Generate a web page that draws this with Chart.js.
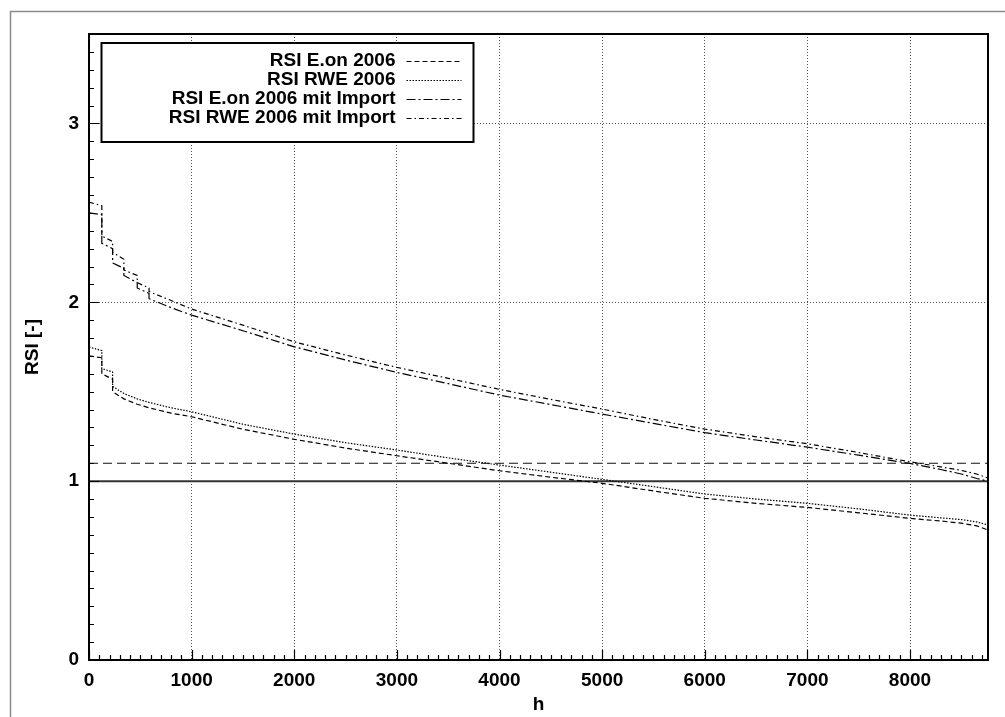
<!DOCTYPE html>
<html>
<head>
<meta charset="utf-8">
<title>RSI</title>
<script src="https://cdn.jsdelivr.net/npm/chart.js@4.4.1/dist/chart.umd.min.js"></script>
<style>
   html, body { margin: 0; padding: 0; background: #fff; }
   #wrap { position: relative; width: 1005px; height: 717px; }
</style>
</head>
<body>
<div id="wrap"><canvas id="rsiChart"></canvas></div>
<script>
'use strict';

// hours of the year (sorted duration curves), steps at the start
const hours = [0, 125, 125, 230, 230, 340, 340, 470, 470, 585, 585, 800, 1000, 1500, 2000, 2500,
   3000, 3500, 4000, 4500, 5000, 5500, 6000, 6500, 7000, 7500, 8000, 8300, 8500, 8650, 8760];

const rsiEon = [1.70, 1.69, 1.60, 1.57, 1.50, 1.46, 1.46, 1.43, 1.43, 1.41, 1.41, 1.38, 1.36, 1.29, 1.234, 1.185,
   1.142, 1.10, 1.058, 1.022, 0.988, 0.945, 0.904, 0.876, 0.853, 0.823, 0.792, 0.777, 0.765, 0.75, 0.727];

const rsiRwe = [1.75, 1.73, 1.63, 1.61, 1.53, 1.49, 1.49, 1.46, 1.46, 1.44, 1.44, 1.41, 1.388, 1.318, 1.263, 1.215,
   1.174, 1.13, 1.09, 1.05, 1.01, 0.969, 0.928, 0.90, 0.876, 0.845, 0.81, 0.795, 0.785, 0.772, 0.755];

const rsiEonImport = [2.50, 2.49, 2.33, 2.30, 2.22, 2.19, 2.15, 2.11, 2.08, 2.05, 2.02, 1.97, 1.928, 1.841, 1.751, 1.677,
   1.608, 1.545, 1.481, 1.428, 1.375, 1.323, 1.271, 1.23, 1.19, 1.145, 1.099, 1.065, 1.04, 1.015, 1.0];

const rsiRweImport = [2.56, 2.54, 2.37, 2.34, 2.28, 2.24, 2.18, 2.15, 2.11, 2.08, 2.06, 2.01, 1.962, 1.872, 1.779, 1.705,
   1.636, 1.575, 1.513, 1.457, 1.403, 1.345, 1.291, 1.248, 1.209, 1.16, 1.108, 1.08, 1.06, 1.04, 1.017];

// reference levels
const refHours = [0, 8760];
const rsiLimit = [1, 1];
const rsiMargin = [1.1, 1.1];

const seriesLabels = ['RSI E.on 2006', 'RSI RWE 2006', 'RSI E.on 2006 mit Import', 'RSI RWE 2006 mit Import'];

// axis ticks
const xTickValues = [0, 1000, 2000, 3000, 4000, 5000, 6000, 7000, 8000];
const yTickValues = [0, 1, 2, 3];

const FONT = '"Liberation Sans", Arial, Helvetica, sans-serif';
const FONT_SIZE = 19;

function toPoints(xs, ys) {
   const res = [];
   for (let i = 0; i < xs.length; i++) {
      res.push({ x: xs[i], y: ys[i] });
   }
   return res;
}

function lineSet(label, xs, ys, dash, width, color, inLegend) {
   return {
      label: label,
      data: toPoints(xs, ys),
      borderColor: color || '#000',
      borderWidth: width,
      borderDash: dash,
      pointRadius: 0,
      tension: 0,
      fill: false,
      inLegend: inLegend
   };
}

// outer frame of the picture
const framePlugin = {
   id: 'frame',
   beforeDraw(chart) {
      const ctx = chart.ctx;
      ctx.save();
      ctx.fillStyle = '#fff';
      ctx.fillRect(0, 0, chart.width, chart.height);
      ctx.strokeStyle = '#8a8a8a';
      ctx.lineWidth = 1.5;
      ctx.strokeRect(10.5, 11.5, chart.width + 20, chart.height + 20);
      ctx.restore();
   }
};

// inward tick marks, plot border and boxed legend
const decorPlugin = {
   id: 'decor',
   afterDatasetsDraw(chart) {
      const ctx = chart.ctx;
      const area = chart.chartArea;
      const xs = chart.scales.x;
      const ys = chart.scales.y;
      ctx.save();
      ctx.strokeStyle = '#000';
      ctx.lineWidth = 1.2;
      ctx.setLineDash([]);
      ctx.beginPath();
      for (let h = 0; h <= 8760; h += 100) {
         const px = Math.round(xs.getPixelForValue(h)) + 0.5;
         const len = h % 1000 === 0 ? 10 : 5;
         ctx.moveTo(px, area.bottom);
         ctx.lineTo(px, area.bottom - len);
      }
      for (let k = 0; k <= 35; k++) {
         const py = Math.round(ys.getPixelForValue(k / 10)) + 0.5;
         const len = k % 10 === 0 ? 10 : 5;
         ctx.moveTo(area.left, py);
         ctx.lineTo(area.left + len, py);
      }
      ctx.stroke();

      ctx.lineWidth = 2;
      ctx.strokeRect(area.left, area.top, area.right - area.left, area.bottom - area.top);

      // legend box
      const bx = area.left + 12.5, by = area.top + 9, bw = 372, bh = 99;
      ctx.fillStyle = '#fff';
      ctx.fillRect(bx, by, bw, bh);
      ctx.strokeRect(bx, by, bw, bh);
      ctx.font = 'bold ' + FONT_SIZE + 'px ' + FONT;
      ctx.fillStyle = '#000';
      ctx.textAlign = 'right';
      ctx.textBaseline = 'middle';
      let row = 0;
      chart.data.datasets.forEach(function (ds) {
         if (!ds.inLegend)
            return;
         const y = by + 18 + row * 19;
         ctx.fillText(ds.label, bx + 294, y);
         ctx.save();
         ctx.lineWidth = ds.borderWidth;
         ctx.strokeStyle = ds.borderColor;
         ctx.setLineDash(ds.borderDash || []);
         ctx.beginPath();
         ctx.moveTo(bx + 305, Math.round(y) + 0.5);
         ctx.lineTo(bx + 360, Math.round(y) + 0.5);
         ctx.stroke();
         ctx.restore();
         row++;
      });
      ctx.restore();
   }
};

const datasets = [
   lineSet(seriesLabels[0], hours, rsiEon, [5, 3], 1.2, '#000', true),
   lineSet(seriesLabels[1], hours, rsiRwe, [1.5, 1.5], 1.2, '#000', true),
   lineSet(seriesLabels[2], hours, rsiEonImport, [9, 3, 2, 3], 1.2, '#000', true),
   lineSet(seriesLabels[3], hours, rsiRweImport, [5, 3, 1.5, 3], 1.2, '#000', true),
   lineSet('limit', refHours, rsiLimit, [], 2, '#333', false),
   lineSet('margin', refHours, rsiMargin, [9, 5], 1.2, '#111', false)
];

const gridStyle = {
   color: '#555',
   lineWidth: 1,
   drawTicks: false
};

const tickFont = { family: FONT, size: FONT_SIZE, weight: 'bold' };

new Chart(document.getElementById('rsiChart'), {
   type: 'line',
   data: { datasets: datasets },
   options: {
      responsive: true,
      maintainAspectRatio: false,
      animation: false,
      layout: {
         padding: { left: 0, right: 17, top: 34, bottom: 0 }
      },
      scales: {
         x: {
            type: 'linear',
            min: 0,
            max: 8760,
            grid: gridStyle,
            border: { display: true, color: '#000', width: 2, dash: [1, 2] },
            ticks: {
               padding: 9,
               color: '#000',
               maxRotation: 0,
               autoSkip: false,
               font: tickFont,
               callback: function (v) { return String(v); }
            },
            afterBuildTicks: function (scale) {
               scale.ticks = xTickValues.map(function (v) { return { value: v }; });
            },
            title: {
               display: true,
               text: 'h',
               color: '#000',
               padding: { top: 0, bottom: 1 },
               font: tickFont
            },
            afterFit: function (scale) { scale.height = 57; }
         },
         y: {
            type: 'linear',
            min: 0,
            max: 3.5,
            grid: gridStyle,
            border: { display: true, color: '#000', width: 2, dash: [1, 2] },
            ticks: {
               padding: 10,
               color: '#000',
               autoSkip: false,
               font: tickFont,
               callback: function (v) { return String(v); }
            },
            afterBuildTicks: function (scale) {
               scale.ticks = yTickValues.map(function (v) { return { value: v }; });
            },
            title: {
               display: true,
               text: 'RSI [-]',
               color: '#000',
               padding: { top: 21, bottom: 0 },
               font: tickFont
            },
            afterFit: function (scale) { scale.width = 89; }
         }
      },
      plugins: {
         legend: { display: false },
         tooltip: { enabled: false }
      }
   },
   plugins: [framePlugin, decorPlugin]
});
</script>
</body>
</html>
